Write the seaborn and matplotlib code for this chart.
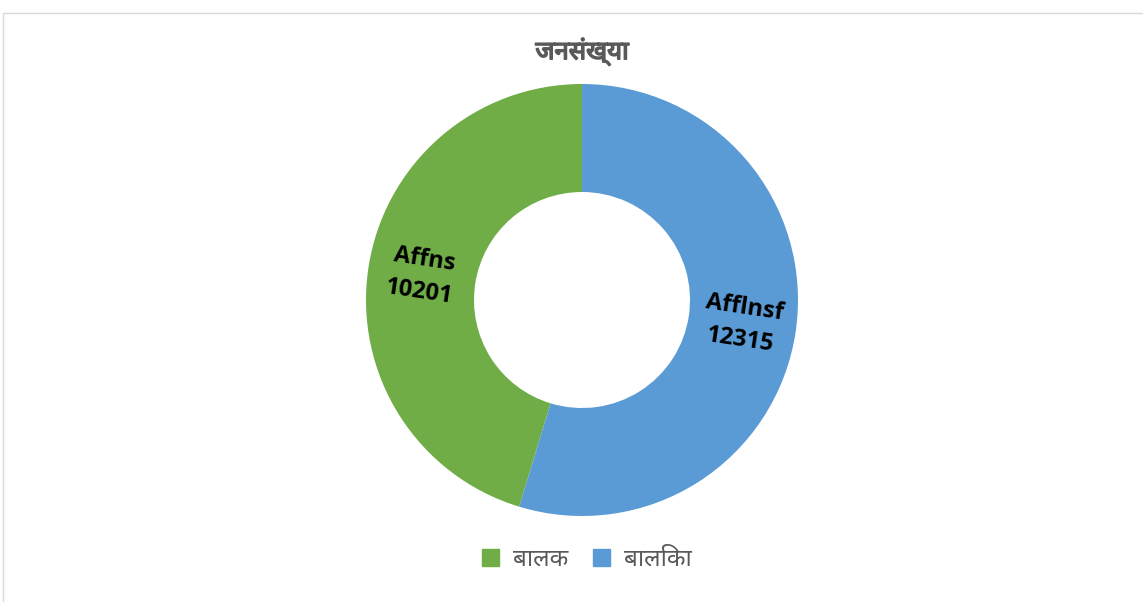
import numpy as np
import matplotlib
matplotlib.use("Agg")
import matplotlib.pyplot as plt
import matplotlib.patheffects as pe
import seaborn as sns
from matplotlib.patches import Rectangle, Patch

# ---- data ----
title = "जनसंख्या"
categories = ["बालक", "बालिका"]
values = [10201, 12315]
label_names = ["Affns", "Afflnsf"]  # legacy-font encoded labels as shown
colors = ["#70AD47", "#5B9BD5"]

sns.set_theme(style="white")
dev_fonts = ["Noto Sans Devanagari", "Lohit Devanagari", "Nirmala UI", "Mangal",
             "Noto Sans", "DejaVu Sans"]
plt.rcParams["font.family"] = dev_fonts

fig = plt.figure(figsize=(11.43, 6.02), dpi=100)
fig.patch.set_facecolor("white")

# chart border (light gray)
fig.add_artist(Rectangle((3 / 1143, -0.05), 1.2, 1 - 13 / 602 + 0.05,
                         transform=fig.transFigure, fill=False,
                         edgecolor="#D9D9D9", linewidth=1.0))

cx, cy, R = 582, 300, 216
ax = fig.add_axes([(cx - R) / 1143, (602 - cy - R) / 602, 2 * R / 1143, 2 * R / 602])
wedges, _ = ax.pie(values, colors=colors, startangle=90, counterclock=True,
                   radius=1.0, wedgeprops=dict(width=0.5, edgecolor="white", linewidth=0))
ax.set_xlim(-1, 1)
ax.set_ylim(-1, 1)
ax.set_aspect("equal")
ax.axis("off")

for w, name, v in zip(wedges, label_names, values):
    mid = 0.5 * (w.theta1 + w.theta2)
    r = 0.75
    x, y = r * np.cos(np.deg2rad(mid)), r * np.sin(np.deg2rad(mid))
    rot = mid % 360
    if 90 < rot <= 270:
        rot -= 180
    elif rot > 270:
        rot -= 360
    ax.text(x, y, f"{name}\n{v}", ha="center", va="center", rotation=rot,
            rotation_mode="anchor", fontsize=17, fontweight="bold", color="black",
            family=["Open Sans", "DejaVu Sans"], linespacing=1.5)

fig.text(582 / 1143, 1 - 52 / 602, title, ha="center", va="center",
         fontsize=18.5, color="#595959",
         path_effects=[pe.withStroke(linewidth=1.1, foreground="#595959")])

handles = [Patch(facecolor=c, edgecolor=c) for c in colors]
fig.legend(handles, categories, loc="center", bbox_to_anchor=(587 / 1143, 1 - 560 / 602),
           ncol=2, frameon=False, fontsize=17.5, labelcolor="#595959",
           handlelength=0.7, handleheight=0.7, handletextpad=0.6, columnspacing=1.0)

fig.savefig("out.png", dpi=100, facecolor="white")
